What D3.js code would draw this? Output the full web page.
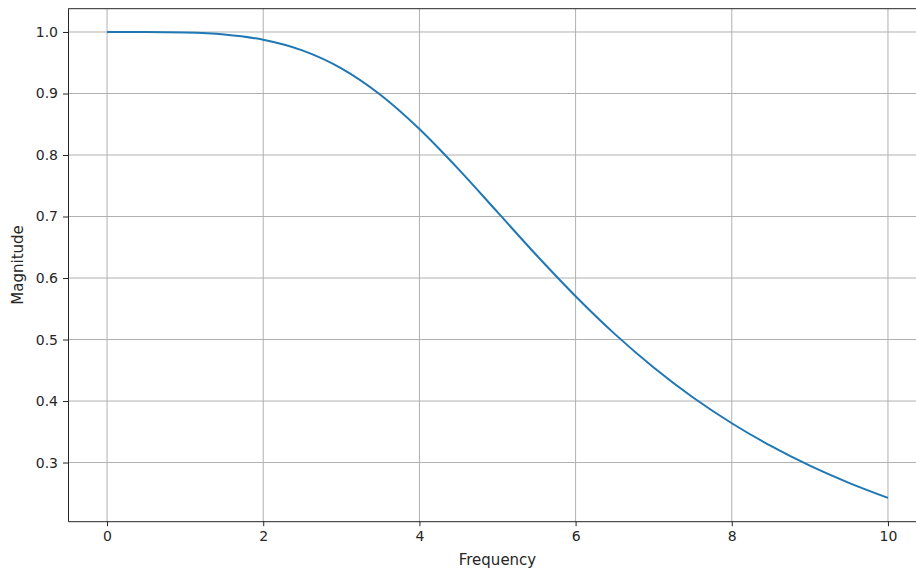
<!DOCTYPE html>
<html>
<style>
body { margin: 0; background: #fff; }
svg { display: block; overflow: hidden; }
text { font-family: "DejaVu Sans", sans-serif; fill: #262626; }
</style>
<body>
<script src="https://d3js.org/d3.v7.min.js"></script>
<script>
// frequency response
var freq = [0, 0.5, 1, 1.5, 2, 2.5, 3, 3.5, 4, 4.5, 5, 5.5, 6, 6.5, 7, 7.5, 8, 8.5, 9, 9.5, 10];
var magnitude = [1.0, 1.0, 0.9992, 0.996, 0.9874, 0.9701, 0.9409, 0.898, 0.8423, 0.7771, 0.7071,
                 0.637, 0.5704, 0.5092, 0.4545, 0.4061, 0.3639, 0.327, 0.2949, 0.267, 0.2425];
var xTicks = [0, 2, 4, 6, 8, 10];
var yTicks = [0.3, 0.4, 0.5, 0.6, 0.7, 0.8, 0.9, 1.0];

var width = 916, height = 572;
var plotLeft = 68, plotTop = 8.7, plotW = 859, plotH = 512.5;

var svg = d3.select("body").append("svg")
  .attr("width", width)
  .attr("height", height);

var x = d3.scaleLinear().domain([-0.5, 10.5]).range([plotLeft, plotLeft + plotW]);
var yPad = (1.0 - 0.2425) * 0.05;
var y = d3.scaleLinear().domain([0.2425 - yPad, 1.0 + yPad]).range([plotTop + plotH, plotTop]);

// grid
svg.append("g").selectAll("line").data(xTicks).enter().append("line")
  .attr("x1", d => x(d)).attr("x2", d => x(d))
  .attr("y1", plotTop).attr("y2", plotTop + plotH)
  .attr("stroke", "#b0b0b0").attr("stroke-width", 1);
svg.append("g").selectAll("line").data(yTicks).enter().append("line")
  .attr("x1", plotLeft).attr("x2", plotLeft + plotW)
  .attr("y1", d => y(d)).attr("y2", d => y(d))
  .attr("stroke", "#b0b0b0").attr("stroke-width", 1);

// curve
var line = d3.line()
  .x((d, i) => x(freq[i]))
  .y(d => y(d))
  .curve(d3.curveMonotoneX);

svg.append("path")
  .datum(magnitude)
  .attr("fill", "none")
  .attr("stroke", "#1f77b4")
  .attr("stroke-width", 2)
  .attr("d", line);

// axes
var xAxis = svg.append("g")
  .attr("transform", "translate(0," + (plotTop + plotH) + ")")
  .call(d3.axisBottom(x).tickValues(xTicks).tickFormat(d3.format("d"))
    .tickSizeInner(5).tickSizeOuter(0).tickPadding(5));
var yAxis = svg.append("g")
  .attr("transform", "translate(" + plotLeft + ",0)")
  .call(d3.axisLeft(y).tickValues(yTicks).tickFormat(d3.format(".1f"))
    .tickSizeInner(5).tickSizeOuter(0).tickPadding(5));

[xAxis, yAxis].forEach(function(a) {
  a.selectAll("text").attr("font-size", "14px").attr("font-family", "DejaVu Sans").attr("fill", "#262626");
  a.selectAll("line").attr("stroke", "#262626");
  a.select(".domain").attr("stroke", "#262626");
});

// top spine
svg.append("line")
  .attr("x1", plotLeft).attr("x2", plotLeft + plotW)
  .attr("y1", plotTop).attr("y2", plotTop)
  .attr("stroke", "#262626");

// labels
svg.append("text")
  .attr("x", x(5)).attr("y", 565)
  .attr("text-anchor", "middle")
  .attr("font-size", "15px")
  .text("Frequency");

svg.append("text")
  .attr("transform", "translate(23," + y((1.0 + 0.2425) / 2) + ") rotate(-90)")
  .attr("text-anchor", "middle")
  .attr("font-size", "15px")
  .text("Magnitude");
</script>
</body>
</html>
